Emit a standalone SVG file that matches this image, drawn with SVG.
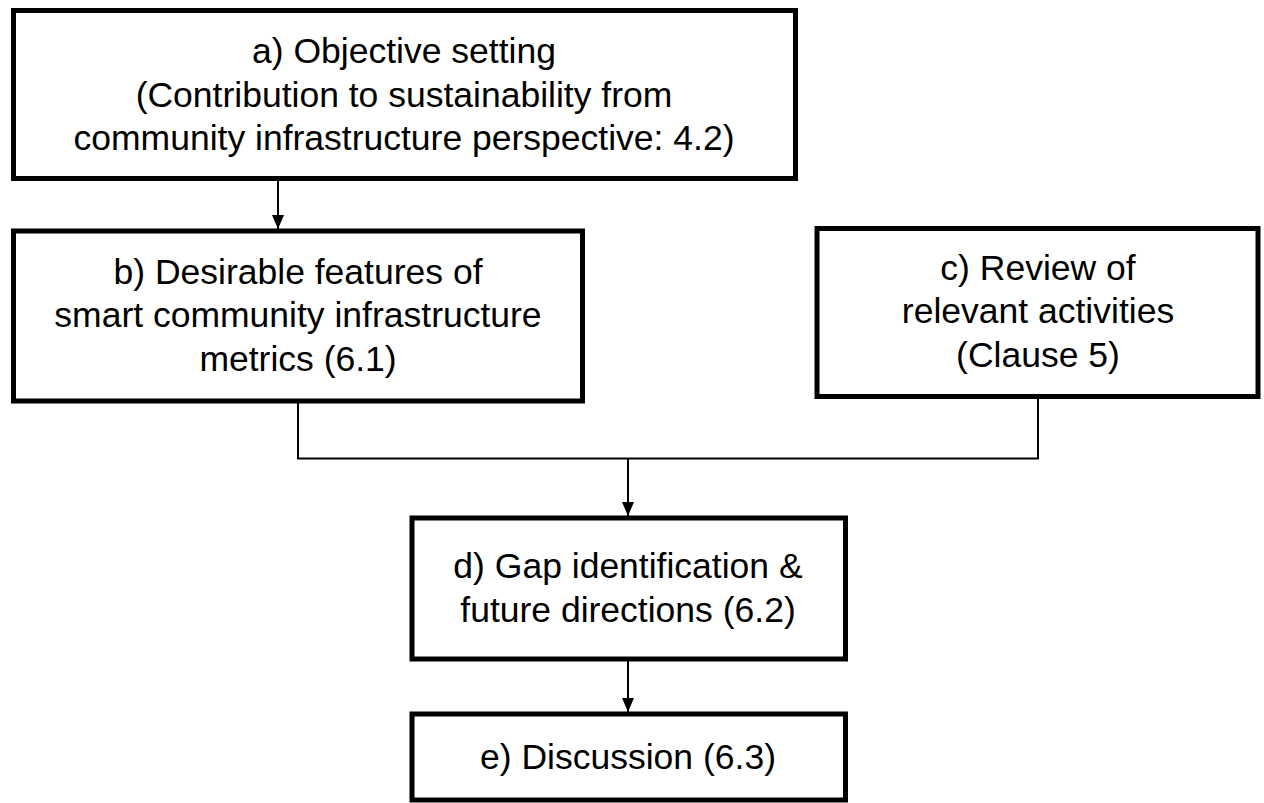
<svg xmlns="http://www.w3.org/2000/svg" width="1264" height="803" viewBox="0 0 1264 803">
<style>
.box{fill:#fff;stroke:#000;stroke-width:5}
.lbl{font-family:"Liberation Sans",Arial,sans-serif;font-size:35.5px;fill:#000;text-anchor:middle}
.con{fill:none;stroke:#000;stroke-width:2}
</style>
<defs>
<marker id="arr" viewBox="0 0 14 12" refX="14" refY="6" markerWidth="14" markerHeight="12" markerUnits="userSpaceOnUse" orient="auto">
<path d="M0,0 L14,6 L0,12 Z" fill="#000"/>
</marker>
</defs>
<rect width="1264" height="803" fill="#fff"/>
<g id="connectors">
<line class="con" x1="278" y1="181" x2="278" y2="229" marker-end="url(#arr)"/>
<polyline class="con" points="298,403 298,458.5 1038,458.5 1038,398"/>
<line class="con" x1="628" y1="458.5" x2="628" y2="516" marker-end="url(#arr)"/>
<line class="con" x1="628" y1="661" x2="628" y2="712" marker-end="url(#arr)"/>
</g>
<g id="node-a">
<rect class="box" x="13.5" y="10.5" width="782" height="168"/>
<text class="lbl" x="404" y="63">a) Objective setting</text>
<text class="lbl" x="404" y="106.5">(Contribution to sustainability from</text>
<text class="lbl" x="404" y="150">community infrastructure perspective: 4.2)</text>
</g>
<g id="node-b">
<rect class="box" x="13.5" y="231" width="569" height="170"/>
<text class="lbl" x="298" y="283.5">b) Desirable features of</text>
<text class="lbl" x="298" y="327">smart community infrastructure</text>
<text class="lbl" x="298" y="370.5">metrics (6.1)</text>
</g>
<g id="node-c">
<rect class="box" x="817" y="228.5" width="441" height="168"/>
<text class="lbl" x="1038" y="279.5">c) Review of</text>
<text class="lbl" x="1038" y="323">relevant activities</text>
<text class="lbl" x="1038" y="366.5">(Clause 5)</text>
</g>
<g id="node-d">
<rect class="box" x="412" y="518" width="433.5" height="141"/>
<text class="lbl" x="628" y="578">d) Gap identification &amp;</text>
<text class="lbl" x="628" y="622">future directions (6.2)</text>
</g>
<g id="node-e">
<rect class="box" x="412" y="714" width="433.5" height="86"/>
<text class="lbl" x="628" y="769">e) Discussion (6.3)</text>
</g>
</svg>
